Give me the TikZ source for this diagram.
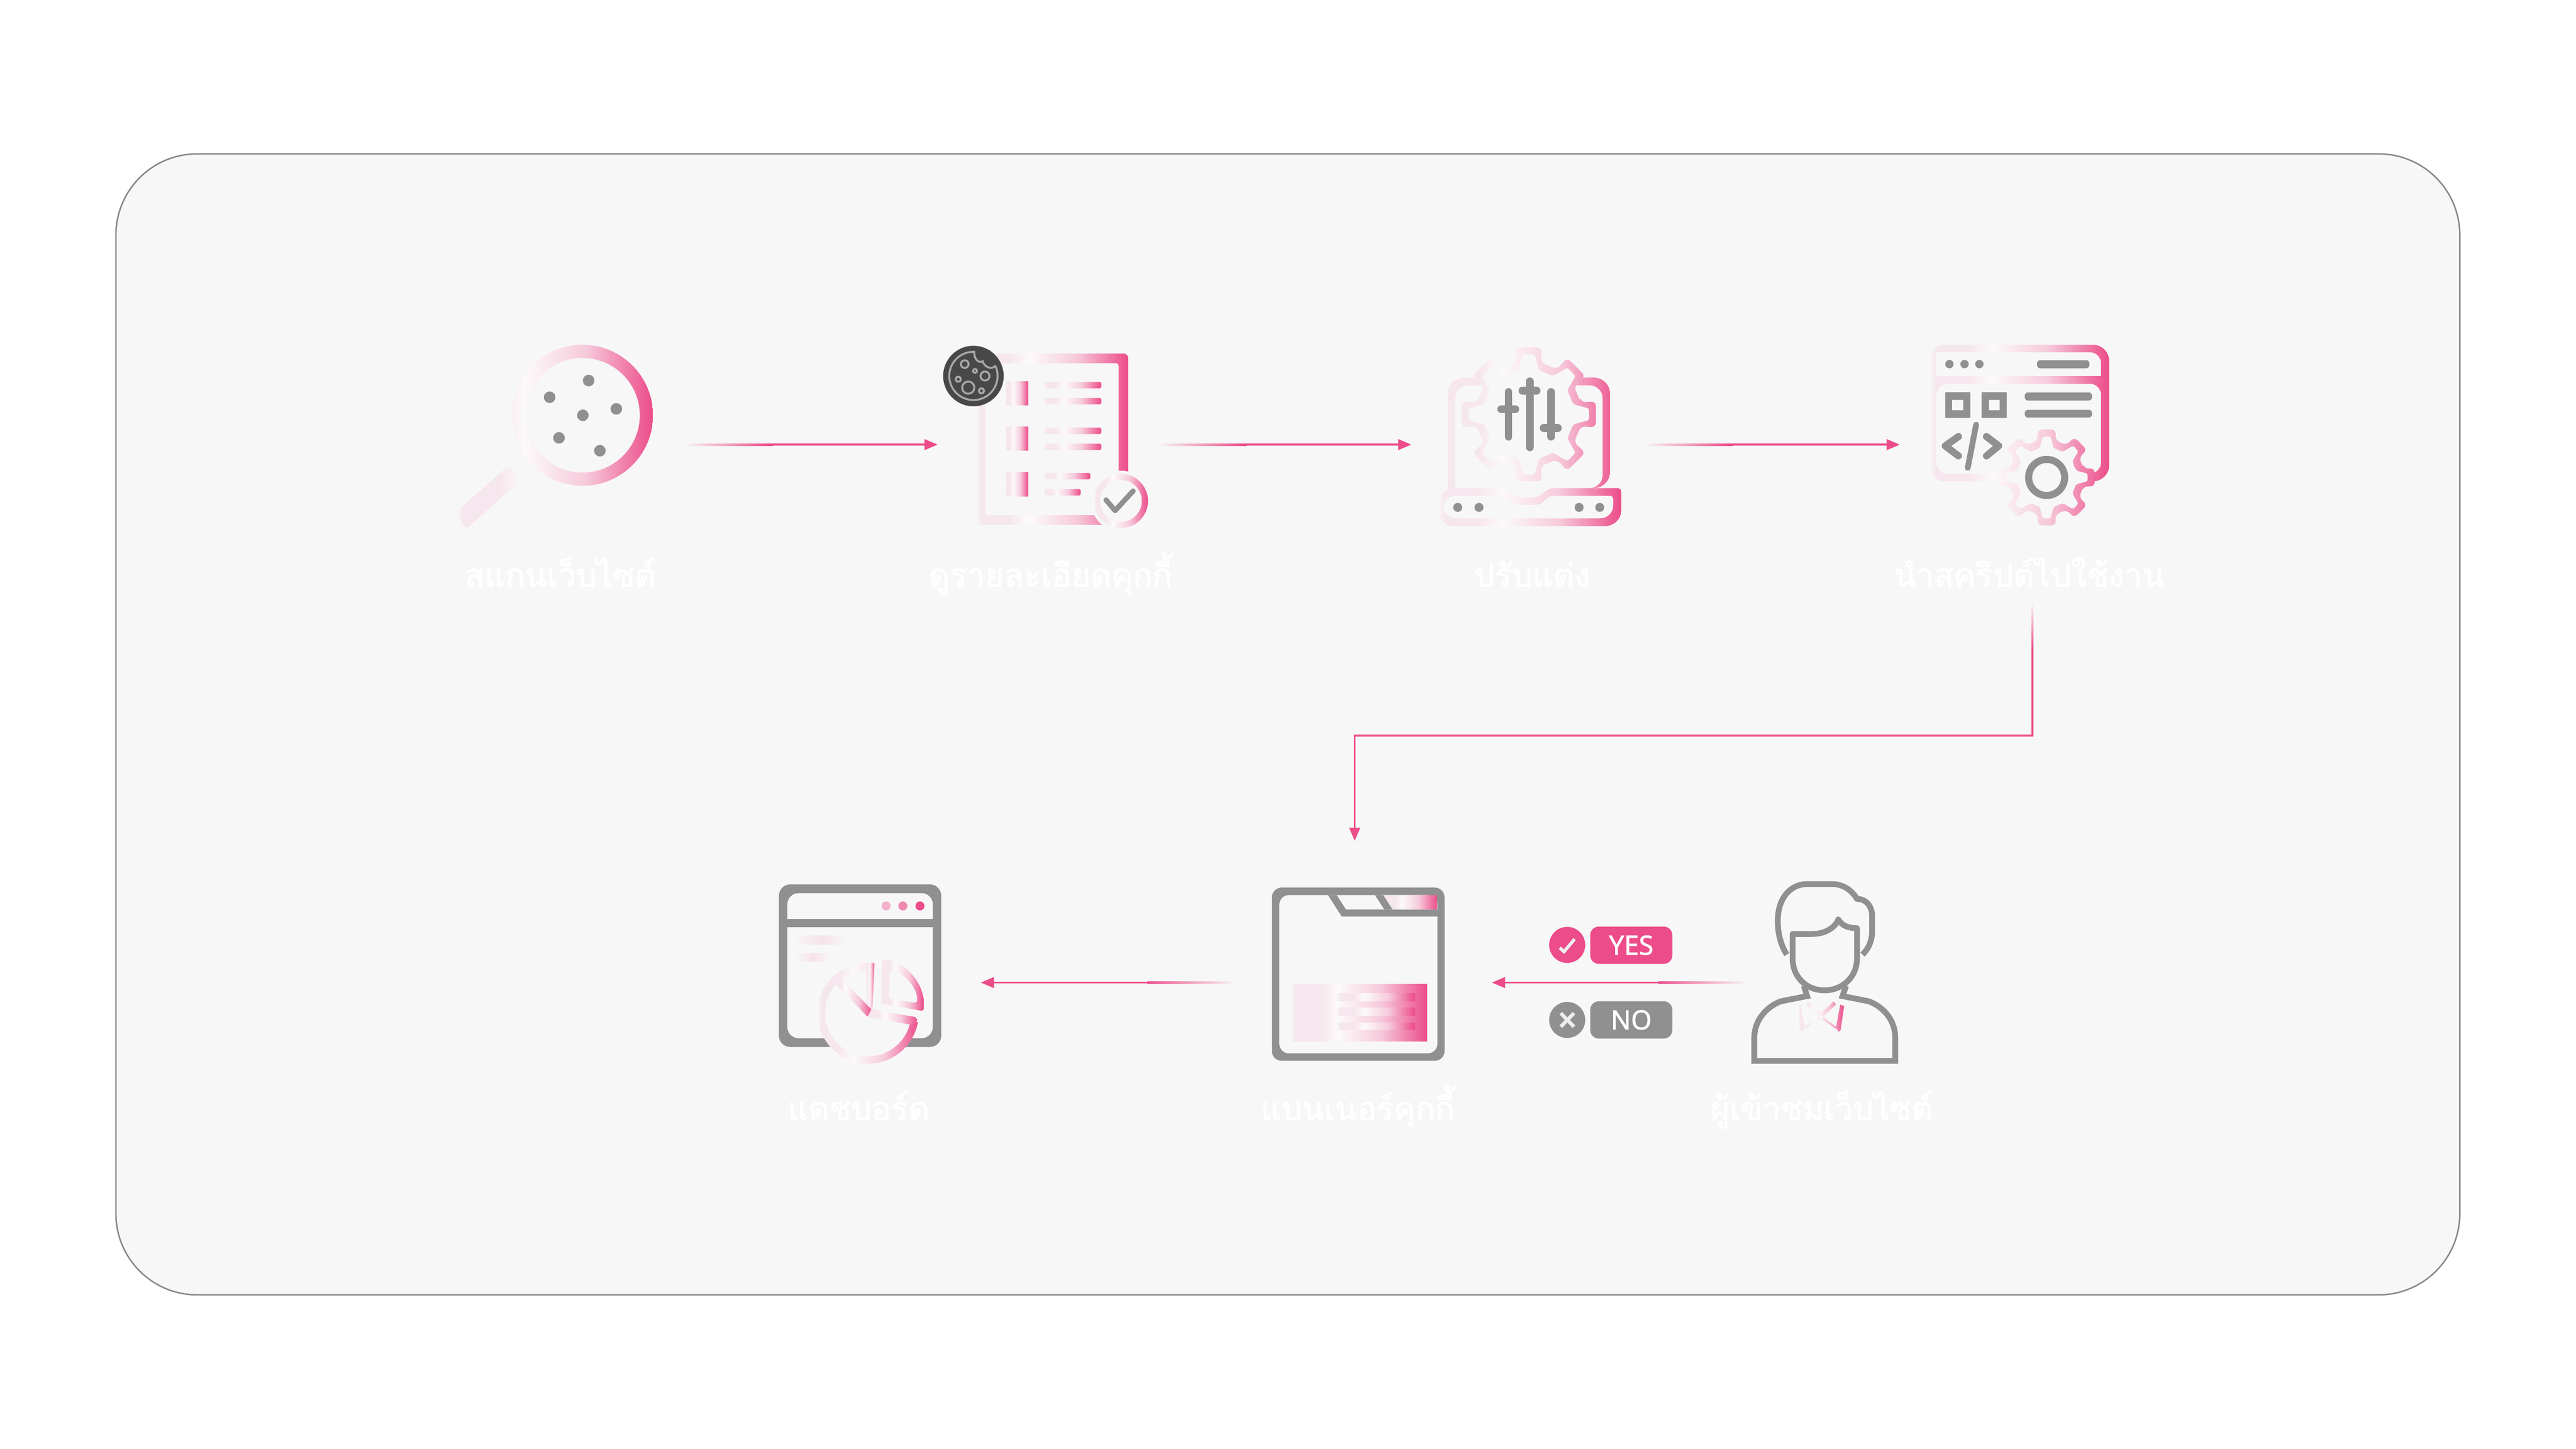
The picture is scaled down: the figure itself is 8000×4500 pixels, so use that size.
\documentclass[tikz,border=0pt]{standalone}
\usepackage{fontspec}
\usetikzlibrary{arrows.meta,calc}
\newfontfamily\thaifont[Script=Thai,FakeBold=1.6]{Loma}
\newfontfamily\pillfont[FakeBold=1.4]{Noto Sans}
\definecolor{panelbg}{HTML}{F7F7F7}
\definecolor{panelline}{HTML}{888888}
\definecolor{flowpink}{HTML}{EC4C89}
\definecolor{icongray}{HTML}{909090}
\definecolor{cookiedark}{HTML}{484848}
\definecolor{cookielight}{HTML}{A8A8A8}
\definecolor{marklight}{HTML}{EEEEEE}
\definecolor{gradsoft}{HTML}{F6E6ED}
\definecolor{gradpale}{HTML}{FCFAFB}
\definecolor{gradmid}{HTML}{F6CADB}
\pgfdeclarehorizontalshading{pinkgrad}{100bp}{color(0bp)=(panelbg); color(25bp)=(panelbg); color(27bp)=(gradsoft); color(36bp)=(gradsoft); color(42.5bp)=(gradpale); color(58bp)=(gradmid); color(75bp)=(flowpink); color(100bp)=(flowpink)}
\tikzset{
  steplabel/.style={text=white,anchor=base,font=\thaifont\fontsize{28.5pt}{28.5pt}\selectfont},
  flowline/.style={draw=flowpink,line width=.06cm,-{Triangle[length=.41cm,width=.33cm]}},
  fadein/.style={left color=panelbg,right color=flowpink},
  fadeout/.style={left color=flowpink,right color=panelbg},
  fadedown/.style={top color=panelbg,bottom color=flowpink},
  grayline/.style={draw=icongray,line width=.18cm,line join=round},
  sliderline/.style={draw=icongray,line width=.23cm,line cap=round},
  cookieline/.style={draw=cookielight,line width=.06cm},
  pillbox/.style={text=white,minimum width=2.55cm,minimum height=1.16cm,rounded corners=.27cm,font=\pillfont\fontsize{23.5pt}{23.5pt}\selectfont}
}
% shade a whole icon box through the shape in #3
\newcommand{\iconshade}[3]{\begin{scope}[even odd rule]\clip #3; \shade[shading=pinkgrad] #1 rectangle #2;\end{scope}}
\newcommand{\gearring}[3]{(-13:#2) \foreach \t in {0,45,...,315} {-- (\t-#3:#1) -- (\t+#3:#1) -- (\t+13:#2) -- (\t+32:#2)} -- cycle}
\newcommand{\gearicon}[6]{
  \fill[panelbg,shift={(#1,#2)},rounded corners=.15cm] \gearring{#3}{#4}{11};
  \begin{scope}[shift={(#1,#2)},even odd rule]
    \clip [rounded corners=.15cm] \gearring{#3}{#4}{11} [rounded corners=.06cm] \gearring{#3-24}{#4-24}{5.5};
    \shade[shading=pinkgrad] (#5-#1,-300) rectangle (#6-#1,300);
  \end{scope}}
\begin{document}
\begin{tikzpicture}[x=.01cm,y=-.01cm]
  \useasboundingbox (0,0) rectangle (8000,4500);
  \fill[white] (0,0) rectangle (8000,4500);
  \draw[panelline,fill=panelbg,line width=.045cm,rounded corners=2.52cm] (360,478) rectangle (7639,4022);

  % scan
  \iconshade{(1415,1050)}{(2027,1660)}{(1809,1290) circle[radius=219] (1809,1290) circle[radius=178] [rounded corners=.12cm] (1579,1447) -- (1617,1492) -- (1448,1643) -- (1415,1592) -- cycle}
  \foreach \x/\y in {1828/1182,1707/1234,1914/1270,1810/1290,1736/1360,1863/1400}
    \fill[icongray] (\x,\y) circle[radius=18];

  % details
  \iconshade{(3030,1098)}{(3504,1630)}{[rounded corners=.15cm] (3030,1098) rectangle (3504,1630) [rounded corners=.08cm] (3060,1128) rectangle (3474,1600)}
  \foreach \y in {1184,1325,1467}
    \shade[shading=pinkgrad] (3121,\y) rectangle (3193,\y+74);
  \foreach \xb/\y in {3420/1186,3420/1236,3420/1328,3420/1378,3386/1469,3356/1519}
    \shade[shading=pinkgrad,rounded corners=.05cm] (3241,\y) rectangle (\xb,\y+20);
  \fill[panelbg] (3481,1556) circle[radius=94];
  \iconshade{(3397,1470)}{(3565,1640)}{(3481,1556) circle[radius=84] (3481,1556) circle[radius=65]}
  \draw[draw=icongray,line width=.16cm,line cap=round,line join=round] (3435,1553) -- (3463,1586) -- (3519,1525);
  \fill[cookiedark] (3023,1168) circle[radius=94];
  \draw[cookieline] (3091,1136) arc[start angle=-25,end angle=272,radius=75] .. controls (3024,1115) and (3040,1130) .. (3052,1122) .. controls (3056,1140) and (3080,1150) .. (3091,1136);
  \foreach \x/\y/\r in {2996/1131/12,3028/1152/6,3059/1168/14,2976/1178/8,3007/1204/19,3048/1214/8}
    \draw[cookieline] (\x,\y) circle[radius=\r];

  % laptop
  \iconshade{(4466,1170)}{(5035,1640)}{[rounded corners=.5cm] (4496,1516) -- (4496,1173) -- (5000,1173) -- (5000,1516) [sharp corners] -- cycle [rounded corners=.4cm] (4519,1516) -- (4519,1197) -- (4977,1197) -- (4977,1516) [sharp corners] -- cycle}
  \iconshade{(4466,1170)}{(5035,1640)}{[rounded corners=.12cm] (4466,1516) -- (4673,1516) -- (4706,1545) -- (4773,1545) -- (4814,1516) -- (5035,1516) [rounded corners=.5cm] -- (5035,1634) -- (4466,1634) -- cycle [rounded corners=.1cm] (4482,1540) -- (4660,1540) -- (4706,1568) -- (4781,1568) -- (4814,1540) -- (5010,1540) [rounded corners=.4cm] -- (5010,1610) -- (4482,1610) -- cycle}
  \gearicon{4748}{1287}{212}{165}{4466}{5035}
  \draw[sliderline] (4685,1217) -- (4685,1357);
  \draw[sliderline] (4751,1184) -- (4751,1390);
  \draw[sliderline] (4817,1217) -- (4817,1357);
  \fill[icongray,rounded corners=.12cm] (4650,1259) rectangle (4718,1283);
  \fill[icongray,rounded corners=.12cm] (4716,1201) rectangle (4784,1226);
  \fill[icongray,rounded corners=.12cm] (4782,1317) rectangle (4850,1342);
  \foreach \x in {4527,4593,4904,4968}
    \fill[icongray] (\x,1576) circle[radius=14];

  % script
  \iconshade{(5991,1071)}{(6550,1640)}{[rounded corners=.5cm] (5991,1071) rectangle (6550,1495) [rounded corners=.35cm] (6013,1094) -- (6525,1094) [sharp corners] -- (6525,1168) -- (6013,1168) -- cycle [rounded corners=.35cm] (6013,1192) -- (6525,1192) -- (6525,1471) -- (6013,1471) -- cycle}
  \gearicon{6356}{1483}{152}{118}{5991}{6550}
  \draw[draw=icongray,line width=.22cm] (6356,1483) circle[radius=56];
  \foreach \x in {6054,6101,6147}
    \fill[icongray] (\x,1131) circle[radius=13];
  \fill[icongray,rounded corners=.1cm] (6326,1119) rectangle (6489,1144);
  \fill[icongray,rounded corners=.1cm] (6288,1219) rectangle (6497,1244);
  \fill[icongray,rounded corners=.1cm] (6288,1273) rectangle (6497,1297);
  \fill[icongray,even odd rule] (6041,1218) rectangle (6119,1298) (6062,1242) rectangle (6097,1274);
  \fill[icongray,even odd rule] (6154,1218) rectangle (6232,1298) (6177,1242) rectangle (6210,1274);
  \draw[draw=icongray,line width=.22cm,line cap=round,line join=round] (6082,1356) -- (6041,1385) -- (6082,1416);
  \draw[draw=icongray,line width=.22cm,line cap=round,line join=round] (6169,1356) -- (6207,1385) -- (6169,1416);
  \draw[draw=icongray,line width=.18cm,line cap=round] (6137,1319) -- (6111,1453);

  % dashboard
  \fill[icongray,even odd rule,rounded corners=.35cm] (2419,2747) rectangle (2923,3252) (2445,2774) rectangle (2897,3225);
  \fill[icongray] (2445,2854) rectangle (2897,2880);
  \fill[flowpink!40!panelbg] (2752,2814) circle[radius=14];
  \fill[flowpink!65!panelbg] (2804,2814) circle[radius=14];
  \fill[flowpink] (2857,2814) circle[radius=14];
  \shade[left color=panelbg,right color=panelbg,middle color=flowpink!12!panelbg] (2471,2906) rectangle (2629,2934);
  \shade[left color=panelbg,right color=panelbg,middle color=flowpink!12!panelbg] (2471,2960) rectangle (2579,2987);
  \fill[panelbg] (2696,3147) circle[radius=157];
  \iconshade{(2539,2980)}{(2853,3310)}{(2696,3147) circle[radius=157] (2696,3147) circle[radius=134]}
  \fill[panelbg] (2700,3147) -- (2700,2960) -- (2880,2960) -- (2880,3180) -- cycle;
  \shade[shading=pinkgrad,rounded corners=.05cm] (2688,2990) -- (2716,2990) -- (2709,3135) -- (2695,3150) -- cycle;
  \shade[shading=pinkgrad,rounded corners=.05cm] (2583,3045) -- (2605,3032) -- (2706,3135) -- (2708,3150) -- (2695,3159) -- cycle;
  \shade[shading=pinkgrad,rounded corners=.03cm] (2706,3135) -- (2843,3159) -- (2850,3170) -- (2830,3183) -- (2695,3159) -- cycle;
  \iconshade{(2733,2982)}{(2869,3141)}{[rounded corners=.1cm] (2733,3116) -- (2739,2982) .. controls (2815,2985) and (2875,3060) .. (2869,3141) -- cycle (2764,3010) .. controls (2810,3025) and (2850,3070) .. (2848,3116) -- (2759,3101) -- cycle}

  % banner
  \fill[icongray,even odd rule,rounded corners=.3cm] (3950,2757) rectangle (4486,3295) (3973,2780) rectangle (4464,3272);
  \fill[icongray] (4124,2780) -- (4151,2780) -- (4180,2825) -- (4464,2825) -- (4464,2847) -- (4167,2847) -- cycle;
  \fill[icongray] (4270,2780) -- (4296,2780) -- (4325,2825) -- (4299,2825) -- cycle;
  \shade[shading=pinkgrad] (4296,2780) -- (4463,2780) -- (4463,2825) -- (4325,2825) -- cycle;
  \shade[shading=pinkgrad] (4007,3056) rectangle (4432,3235);
  \foreach \y in {3086,3131,3176}
    \shade[shading=pinkgrad] (4152,\y) rectangle (4394,\y+23);

  % visitor
  \draw[grayline] (5549,2965) .. controls (5530,2935) and (5521,2900) .. (5521,2860) .. controls (5521,2790) and (5560,2746) .. (5612,2746) -- (5689,2746) .. controls (5725,2746) and (5750,2765) .. (5767,2792) .. controls (5795,2792) and (5814,2815) .. (5814,2845) -- (5814,2892) .. controls (5814,2925) and (5800,2950) .. (5784,2965);
  \draw[grayline] (5567,2901) -- (5567,2977) .. controls (5567,3035) and (5610,3076) .. (5666,3076) .. controls (5722,3076) and (5767,3035) .. (5767,2977) -- (5767,2883) .. controls (5740,2883) and (5720,2875) .. (5709,2856) .. controls (5700,2880) and (5670,2901) .. (5628,2901) -- cycle;
  \draw[grayline,line join=miter] (5602,3062) -- (5612,3094) -- (5531,3110) .. controls (5490,3125) and (5448,3165) .. (5448,3225) -- (5448,3295) -- (5886,3295) -- (5886,3225) .. controls (5886,3165) and (5845,3125) .. (5803,3110) -- (5722,3094) -- (5733,3062);
  \iconshade{(5584,3110)}{(5727,3210)}{(5578,3125) -- (5591,3120) -- (5604,3190) -- (5597,3205) -- (5590,3200) -- cycle (5608,3120) -- (5617,3110) -- (5665,3156) -- (5660,3167) -- cycle (5702,3120) -- (5694,3110) -- (5646,3156) -- (5651,3167) -- cycle (5727,3125) -- (5715,3120) -- (5702,3190) -- (5709,3205) -- (5716,3200) -- cycle (5597,3200) -- (5604,3190) -- (5660,3145) -- (5665,3156) -- cycle (5709,3200) -- (5702,3190) -- (5646,3145) -- (5641,3156) -- cycle}

  % yes and no
  \fill[flowpink] (4867,2935) circle[radius=56];
  \draw[draw=marklight,line width=.1cm] (4844,2944) -- (4857,2956) -- (4890,2917);
  \node[pillbox,fill=flowpink] (yespill) at (5066,2936) {YES};
  \fill[icongray] (4867,3168) circle[radius=56];
  \draw[draw=marklight,line width=.11cm] (4847,3147) -- (4888,3189) (4888,3147) -- (4847,3189);
  \node[pillbox,fill=icongray] (nopill) at (5066,3168) {NO};

  % labels
  \node[steplabel] (scantext) at (1740,1822) {สแกนเว็บไซต์};
  \node[steplabel] (detailtext) at (3262,1822) {ดูรายละเอียดคุกกี้};
  \node[steplabel] (tunetext) at (4758,1822) {ปรับแต่ง};
  \node[steplabel] (scripttext) at (6302,1822) {นำสคริปต์ไปใช้งาน};
  \node[steplabel] (dashtext) at (2666,3479) {แดชบอร์ด};
  \node[steplabel] (bannertext) at (4216,3479) {แบนเนอร์คุกกี้};
  \node[steplabel] (visitortext) at (5657,3479) {ผู้เข้าชมเว็บไซต์};

  % connectors
  \coordinate (scanout) at (2127,1381);
  \coordinate (detailin) at (2912,1381);
  \coordinate (detailout) at (3597,1381);
  \coordinate (tunein) at (4383,1381);
  \coordinate (tuneout) at (5108,1381);
  \coordinate (scriptin) at (5900,1381);
  \coordinate (scriptout) at (6312,1875);
  \coordinate (elbowright) at (6312,2285);
  \coordinate (elbowleft) at (4207,2285);
  \coordinate (bannerin) at (4207,2612);
  \coordinate (visitorout) at (5423,3052);
  \coordinate (bannerright) at (4633,3052);
  \coordinate (bannerout) at (3836,3052);
  \coordinate (dashin) at (3046,3052);
  \draw[flowline] (scanout) -- (detailin);
  \draw[flowline] (detailout) -- (tunein);
  \draw[flowline] (tuneout) -- (scriptin);
  \draw[flowline] (scriptout) -- (elbowright) -- (elbowleft) -- (bannerin);
  \draw[flowline] (visitorout) -- (bannerright);
  \draw[flowline] (bannerout) -- (dashin);
  \shade[fadein] ($(scanout)+(-1,-3)$) rectangle ($(scanout)+(273,3)$);
  \shade[fadein] ($(detailout)+(-1,-3)$) rectangle ($(detailout)+(273,3)$);
  \shade[fadein] ($(tuneout)+(-1,-3)$) rectangle ($(tuneout)+(273,3)$);
  \shade[fadedown] ($(scriptout)+(-3,-1)$) rectangle ($(scriptout)+(3,140)$);
  \shade[fadeout] ($(visitorout)+(-273,-3)$) rectangle ($(visitorout)+(1,3)$);
  \shade[fadeout] ($(bannerout)+(-273,-3)$) rectangle ($(bannerout)+(1,3)$);
\end{tikzpicture}
\end{document}
